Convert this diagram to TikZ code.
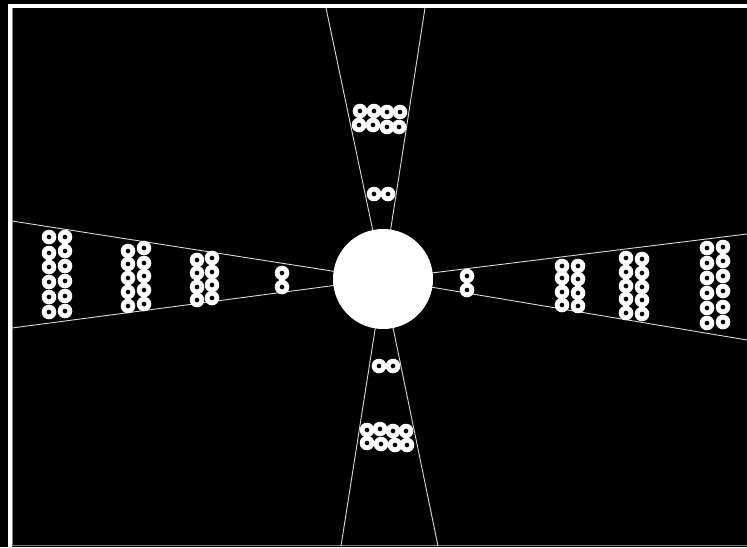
\documentclass[tikz,border=0pt]{standalone}
\begin{document}
\begin{tikzpicture}[x=1pt,y=-1pt,
  ring/.style={circle,inner sep=0pt,outer sep=0pt,minimum size=14.6pt},
  ringfill/.style={fill=white,even odd rule},
  ray/.style={draw=white!85!black,line width=0.9pt},
  hubstyle/.style={circle,fill=white,minimum size=100pt,inner sep=0pt,outer sep=0pt},
  framestyle/.style={fill=white}]
\useasboundingbox (0,0) rectangle (747,547);
\fill[black] (0,0) rectangle (747,547);
% frame
\fill[framestyle] (8,4) rectangle (747,8);
\fill[framestyle] (8,4) rectangle (12,547);
\draw[gray,line width=1pt] (12.5,8) -- (12.5,545) -- (747,545);
% rays
\coordinate (c) at (383,279);
\coordinate (tl) at (326,8);
\coordinate (tr) at (425,8);
\coordinate (bl) at (341,546);
\coordinate (br) at (438,546);
\coordinate (lu) at (12,221);
\coordinate (ll) at (12,328);
\coordinate (ru) at (747,234);
\coordinate (rl) at (747,340);
\foreach \e in {tl,tr,bl,br,lu,ll,ru,rl} \draw[ray] (c) -- (\e);
% hub
\node[hubstyle] (hub) at (c) {};
% rings
\foreach \x/\y [count=\i] in {
  360/111,374/111,387/112,400/112,359/125,373/125,387/127,399/127,
  374/194,388/194,
  379/366,393/366,
  367/430,380/429,393/431,406/431,367/443,381/444,395/445,407/445,
  49/237,49/253,49/267,49/282,49/297,49/312,
  65/237,65/251,65/266,65/281,65/296,65/311,
  128/251,128/264,128/278,128/292,128/306,
  144/248,144/263,144/276,144/290,144/304,
  197/260,197/273,197/287,197/300,
  212/258,212/272,212/285,212/298,
  282/273,282/287,
  467/276,467/290,
  562/266,562/278,562/292,562/305,
  578/266,578/279,578/293,578/306,
  626/258,626/272,626/286,626/299,626/313,
  642/259,642/273,642/287,642/300,642/314,
  707/248,707/263,707/278,707/293,707/308,707/323,
  723/247,723/261,723/276,723/291,723/307,723/322}
  {\node[ring] (r\i) at (\x,\y) {};
   \fill[ringfill] (r\i.center) circle[radius=7.3] circle[radius=2.5];}
\end{tikzpicture}
\end{document}
